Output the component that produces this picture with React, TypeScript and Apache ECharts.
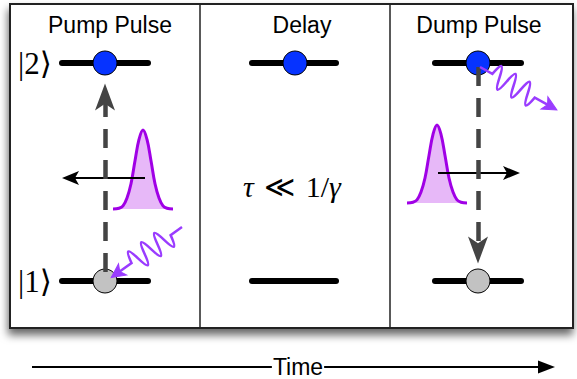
import React, { useEffect, useRef } from "react";
import * as echarts from "echarts";

// ---- panels ----
const panelTitles = ["Pump Pulse", "Delay", "Dump Pulse"];
const titleX = [110, 302, 479];
const titleY = 25;
const dividerX = [200, 390];
const frameBox = [10, 4, 573, 328]; // left, top, right, bottom

// ---- energy levels ----
const levelLabels = ["|2⟩", "|1⟩"];
const levelLabelX = 35;
const upperY = 63;
const lowerY = 281;
const levelStartX = [62, 252, 435];
const levelEndX = [148, 336, 521];
const stateX = [105, 295, 478];
const upperOccupied = [true, true, true];
const lowerOccupied = [true, false, true];

// ---- transitions (dashed) ----
const transitionPanel = [0, 2];
const transitionFromY = [98, 67];
const transitionToY = [281, 252];
const transitionHeadY = [83.5, 263.5];
const transitionHeadRotate = [0, 180];

// ---- laser pulses (gaussian envelope) ----
const pulseOffsets = [-30, -24, -20, -16, -12, -8, -4, 0, 4, 8, 12, 16, 20, 24, 30];
const pulseShape = [0, 0.01, 0.04, 0.14, 0.32, 0.61, 0.88, 1, 0.88, 0.61, 0.32, 0.14, 0.04, 0.01, 0];
const pulsePeakX = [143, 437];
const pulseBaseY = [209, 203];
const pulseHeight = [79, 78];
const pulseArrowFromX = [145, 438];
const pulseArrowToX = [62, 520];
const pulseArrowY = [178, 173];

// ---- time axis ----
const timeFromX = 32;
const timeToX = 555;
const timeY = 367;
const timeLabel = "Time";
const delayLabel = "{i|τ} {m|≪} 1/{i|γ}";

// ---- photons ----
const WAVE_D =
  "M0 0 L14 0 C16.9 -15 19.1 -15 22 0 S27.1 15 30 0 S35.1 -15 38 0 S43.1 15 46 0 S51.1 -15 54 0 S59.1 15 62 0 L80 0";
const HEAD_D = "M87 0 L73 -7 L76.5 0 L73 7 Z";
const PULSE_HEAD = "path://M0 0 L7 17 L0 13 L-7 17 Z";

const BLUE = "#0633ff";
const GREY = "#c2c2c2";
const DASH = "#444444";
const PULSE_STROKE = "#a000e6";
const PULSE_FILL = "#e7b8f8";
const PHOTON = "#9a3cff";

function buildOption() {
  const levelData: any[] = [];
  for (let p = 0; p < 3; p++) {
    levelData.push({ coords: [[levelStartX[p], upperY], [levelEndX[p], upperY]] });
    levelData.push({ coords: [[levelStartX[p], lowerY], [levelEndX[p], lowerY]] });
  }
  const stateData: any[] = [];
  for (let p = 0; p < 3; p++) {
    if (upperOccupied[p]) stateData.push({ value: [stateX[p], upperY], itemStyle: { color: BLUE } });
    if (lowerOccupied[p]) stateData.push({ value: [stateX[p], lowerY], itemStyle: { color: GREY } });
  }
  const transData = transitionPanel.map((p, i) => ({
    coords: [[stateX[p], transitionFromY[i]], [stateX[p], transitionToY[i]]],
  }));
  const transHeads = transitionPanel.map((p, i) => ({
    value: [stateX[p], transitionHeadY[i]],
    symbolRotate: transitionHeadRotate[i],
  }));
  const pulseSeries = pulsePeakX.map((px, i) => ({
    type: "line",
    silent: true,
    z: 1,
    smooth: 0.4,
    symbol: "none",
    data: pulseOffsets.map((o, k) => [px + o, pulseBaseY[i] - pulseHeight[i] * pulseShape[k]]),
    lineStyle: { color: PULSE_STROKE, width: 3 },
    areaStyle: { color: PULSE_FILL, opacity: 1, origin: pulseBaseY[i] },
  }));
  const dirOf = (i: number) => (pulseArrowToX[i] > pulseArrowFromX[i] ? 1 : -1);
  const pulseArrowData = pulseArrowFromX.map((fx, i) => ({
    coords: [[fx, pulseArrowY[i]], [pulseArrowToX[i] - dirOf(i) * 10, pulseArrowY[i]]],
  }));
  const pulseHeads = pulseArrowFromX.map((fx, i) => ({
    value: [pulseArrowToX[i] - dirOf(i) * 8.5, pulseArrowY[i]],
    symbolRotate: dirOf(i) > 0 ? -90 : 90,
  }));

  const centered = {
    align: "center",
    verticalAlign: "middle",
    textAlign: "center",
    textVerticalAlign: "middle",
  };

  const graphics: any[] = [
    {
      type: "rect",
      z: -10,
      shape: { x: frameBox[0], y: frameBox[1], width: frameBox[2] - frameBox[0], height: frameBox[3] - frameBox[1] },
      style: {
        fill: "#fff",
        stroke: "#222",
        lineWidth: 2,
        shadowBlur: 9,
        shadowOffsetY: 6,
        shadowOffsetX: -1,
        shadowColor: "rgba(0,0,0,0.6)",
      },
    },
    ...dividerX.map((x) => ({
      type: "line",
      z: -9,
      shape: { x1: x, y1: frameBox[1], x2: x, y2: frameBox[3] },
      style: { stroke: "#222", lineWidth: 1.5 },
    })),
    ...panelTitles.map((t, i) => ({
      type: "text",
      z: 50,
      x: titleX[i],
      y: titleY,
      style: {
        text: t,
        fill: "#000",
        font: '23px "Liberation Sans", Arial, sans-serif',
        ...centered,
      },
    })),
    ...levelLabels.map((t, i) => ({
      type: "text",
      z: 50,
      x: levelLabelX,
      y: i === 0 ? upperY : lowerY,
      style: {
        text: t,
        fill: "#000",
        font: '31px "Liberation Serif", "DejaVu Serif", serif',
        ...centered,
      },
    })),
    {
      type: "text",
      z: 50,
      x: 292,
      y: 186,
      style: {
        text: delayLabel,
        fill: "#000",
        font: '30px "Liberation Serif", "DejaVu Serif", serif',
        ...centered,
        rich: {
          i: { fontStyle: "italic", fontSize: 30, fontFamily: '"Liberation Serif", serif' },
          m: { fontSize: 30, fontFamily: '"DejaVu Serif", serif', padding: [0, 3] },
        },
      },
    },
    {
      type: "text",
      z: 60,
      x: 298,
      y: timeY,
      style: {
        text: timeLabel,
        fill: "#000",
        font: '23px "Liberation Sans", Arial, sans-serif',
        ...centered,
        backgroundColor: "#fff",
        padding: [0, 1],
      },
    },
    // photons
    {
      type: "photonWave",
      z: 40,
      x: 182,
      y: 227,
      rotation: -Math.atan2(50, -70),
      style: { stroke: PHOTON, lineWidth: 2.5, fill: "none" },
    },
    {
      type: "photonHead",
      z: 40,
      x: 182,
      y: 227,
      rotation: -Math.atan2(50, -70),
      style: { fill: PHOTON, stroke: PHOTON, lineWidth: 1 },
    },
    {
      type: "photonWave",
      z: 40,
      x: 480,
      y: 67,
      scaleX: 88 / 87,
      rotation: -Math.atan2(43, 77),
      style: { stroke: PHOTON, lineWidth: 2.5, fill: "none" },
    },
    {
      type: "photonHead",
      z: 40,
      x: 480,
      y: 67,
      scaleX: 88 / 87,
      rotation: -Math.atan2(43, 77),
      style: { fill: PHOTON, stroke: PHOTON, lineWidth: 1 },
    },
  ];

  return {
    animation: false,
    backgroundColor: "#fff",
    grid: { left: 0, top: 0, right: 0, bottom: 0, containLabel: false },
    xAxis: { type: "value", min: 0, max: 577, show: false },
    yAxis: { type: "value", min: 0, max: 379, inverse: true, show: false },
    graphic: { elements: graphics },
    series: [
      ...pulseSeries,
      {
        type: "lines",
        coordinateSystem: "cartesian2d",
        silent: true,
        z: 2,
        symbol: "none",
        data: levelData,
        lineStyle: { color: "#000", width: 6, cap: "round", opacity: 1 },
      },
      {
        type: "lines",
        coordinateSystem: "cartesian2d",
        silent: true,
        z: 3,
        symbol: "none",
        data: pulseArrowData,
        lineStyle: { color: "#000", width: 2, opacity: 1 },
      },
      {
        type: "scatter",
        silent: true,
        z: 3,
        symbol: PULSE_HEAD,
        symbolSize: [14, 17],
        symbolKeepAspect: false,
        data: pulseHeads,
        itemStyle: { color: "#000", opacity: 1 },
      },
      {
        type: "scatter",
        silent: true,
        z: 4,
        symbol: "circle",
        symbolSize: 24,
        data: stateData,
        itemStyle: { borderColor: "#000", borderWidth: 1, opacity: 1 },
      },
      {
        type: "lines",
        coordinateSystem: "cartesian2d",
        silent: true,
        z: 5,
        symbol: "none",
        data: transData,
        lineStyle: { color: DASH, width: 4.5, type: [19, 12], opacity: 1 },
      },
      {
        type: "scatter",
        silent: true,
        z: 6,
        symbol: "arrow",
        symbolSize: [15, 27],
        data: transHeads,
        itemStyle: { color: DASH, opacity: 1 },
      },
      {
        type: "lines",
        coordinateSystem: "cartesian2d",
        silent: true,
        z: 3,
        symbol: "none",
        data: [{ coords: [[timeFromX, timeY], [timeToX - 12, timeY]] }],
        lineStyle: { color: "#000", width: 2, opacity: 1 },
      },
      {
        type: "scatter",
        silent: true,
        z: 3,
        symbol: "triangle",
        symbolSize: [13, 17],
        data: [{ value: [timeToX - 8.5, timeY], symbolRotate: -90 }],
        itemStyle: { color: "#000", opacity: 1 },
      },
    ],
  };
}

export default function App() {
  const ref = useRef<HTMLDivElement>(null);
  useEffect(() => {
    if (!ref.current) return;
    echarts.graphic.registerShape("photonWave", echarts.graphic.extendPath(WAVE_D, {}));
    echarts.graphic.registerShape("photonHead", echarts.graphic.extendPath(HEAD_D, {}));
    const chart = echarts.init(ref.current, null, { renderer: "svg" });
    chart.setOption(buildOption() as any);
    return () => chart.dispose();
  }, []);
  return (
    <div
      ref={ref}
      style={{ position: "fixed", left: 0, top: 0, width: 577, height: 379, background: "#fff" }}
    />
  );
}
